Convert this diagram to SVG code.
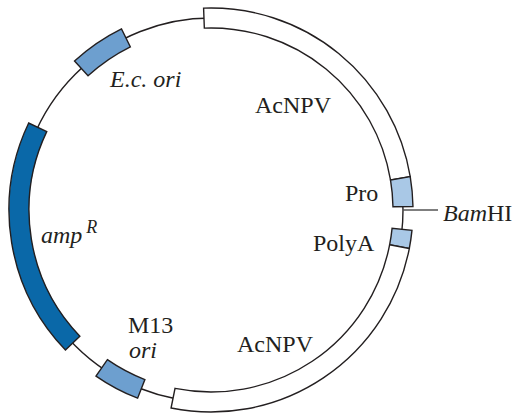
<svg xmlns="http://www.w3.org/2000/svg" width="522" height="416" viewBox="0 0 522 416">
<style>
.t{font-family:"Liberation Serif","Times New Roman",serif;font-size:24px;fill:#231f20}
.i{font-style:italic}
.seg{stroke:#231f20;stroke-width:1.4;stroke-linejoin:miter}
.white{fill:#ffffff}
.mid{fill:#6d9fcf}
.light{fill:#a9c8e6}
.dark{fill:#0a68a8}
</style>
<rect width="522" height="416" fill="#ffffff"/>
<g id="connectors">
<circle cx="211" cy="210" r="192" fill="none" stroke="#231f20" stroke-width="1.4"/>
<line x1="403" y1="210" x2="438" y2="210" stroke="#555" stroke-width="1.3"/>
</g>
<g id="acnpv-top">
<path class="seg white" d="M203.60,8.14 A202,202 0 0 1 410.23,176.66 L390.50,179.96 A182,182 0 0 0 204.33,28.12 Z"/>
<text class="t" x="255" y="113">AcNPV</text>
</g>
<g id="pro">
<path class="seg light" d="M410.23,176.66 A202,202 0 0 1 412.97,206.47 L392.97,206.82 A182,182 0 0 0 390.50,179.96 Z"/>
<text class="t" x="345" y="201">Pro</text>
</g>
<g id="bamhi">
<text class="t" x="443" y="221"><tspan class="i">Bam</tspan>HI</text>
</g>
<g id="polya">
<path class="seg light" d="M411.97,230.41 A202,202 0 0 1 409.29,248.54 L389.66,244.73 A182,182 0 0 0 392.07,228.39 Z"/>
<text class="t" x="313" y="251">PolyA</text>
</g>
<g id="acnpv-bottom">
<path class="seg white" d="M409.29,248.54 A202,202 0 0 1 171.07,408.01 L175.03,388.41 A182,182 0 0 0 389.66,244.73 Z"/>
<text class="t" x="237" y="352">AcNPV</text>
</g>
<g id="m13-ori">
<path class="seg mid" d="M137.62,398.20 A202,202 0 0 1 96.00,376.07 L107.39,359.63 A182,182 0 0 0 144.89,379.57 Z"/>
<text class="t" x="128" y="333">M13</text>
<text class="t i" x="129" y="358">ori</text>
</g>
<g id="ampR">
<path class="seg dark" d="M65.45,350.07 A202,202 0 0 1 28.68,123.04 L46.73,131.65 A182,182 0 0 0 79.86,336.20 Z"/>
<text class="t i" x="41" y="243" font-size="25">amp<tspan font-size="18" dx="4" dy="-10">R</tspan></text>
</g>
<g id="ec-ori">
<path class="seg mid" d="M74.53,61.07 A202,202 0 0 1 121.50,28.91 L130.36,46.84 A182,182 0 0 0 88.04,75.82 Z"/>
<text class="t i" x="110" y="87">E.c. ori</text>
</g>
</svg>
